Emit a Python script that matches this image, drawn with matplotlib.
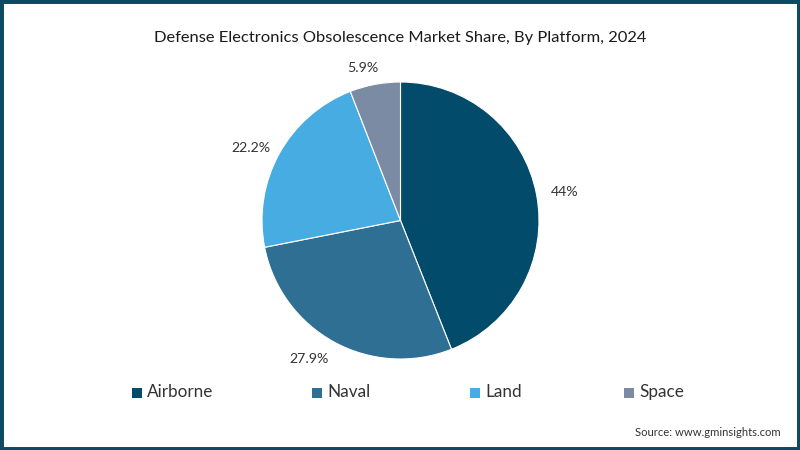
import matplotlib
matplotlib.use("Agg")
import matplotlib.pyplot as plt
from matplotlib.patches import Rectangle

plt.rcParams["font.family"] = ["Lato", "DejaVu Sans"]

platforms = ["Airborne", "Naval", "Land", "Space"]
shares = [44, 27.9, 22.2, 5.9]
share_labels = ["44%", "27.9%", "22.2%", "5.9%"]
colors = ["#034b6a", "#2f6f94", "#47ace2", "#7b8ba3"]

fig = plt.figure(figsize=(8, 4.5), dpi=100, facecolor="white")

# frame around the whole picture
fig.add_artist(Rectangle((0, 0), 1, 1, transform=fig.transFigure, fill=False,
                         edgecolor="#0b4a62", linewidth=5))

fig.text(0.5, 1 - 38 / 450, "Defense Electronics Obsolescence Market Share, By Platform, 2024",
         ha="center", va="center", fontsize=11.85, color="#1a1a1a")

ax = fig.add_axes([262 / 800, 1 - 359 / 450, 277 / 800, 277 / 450])
wedges, texts = ax.pie(shares, colors=colors, startangle=90, counterclock=False,
                       labels=share_labels, labeldistance=1.09,
                       wedgeprops={"edgecolor": "white", "linewidth": 0.8},
                       textprops={"fontsize": 10.2, "color": "#333333"})
ax.set_xlim(-1, 1)
ax.set_ylim(-1, 1)

# nudge the labels a few pixels to where the original has them
nudge_px = [(2, 0), (1, -6), (2, 0), (6, 4)]
for t, (dx, dy) in zip(texts, nudge_px):
    x, y = t.get_position()
    t.set_position((x + dx / 138.5, y + dy / 138.5))

# legend drawn by hand to keep the wide spacing
legend_x = [132, 312, 470, 624]
for x, name, c in zip(legend_x, platforms, colors):
    fig.add_artist(Rectangle((x / 800, 1 - 398 / 450), 9.5 / 800, 10 / 450,
                             transform=fig.transFigure, facecolor=c,
                             edgecolor="none"))
    fig.text((x + 15) / 800, 1 - 392 / 450, name, ha="left", va="center",
             fontsize=12.3, color="#333333")

fig.text(781 / 800, 1 - 433 / 450, "Source: www.gminsights.com", ha="right", va="center",
         fontsize=8.1, color="#333333")

fig.savefig("out.png", dpi=100)
